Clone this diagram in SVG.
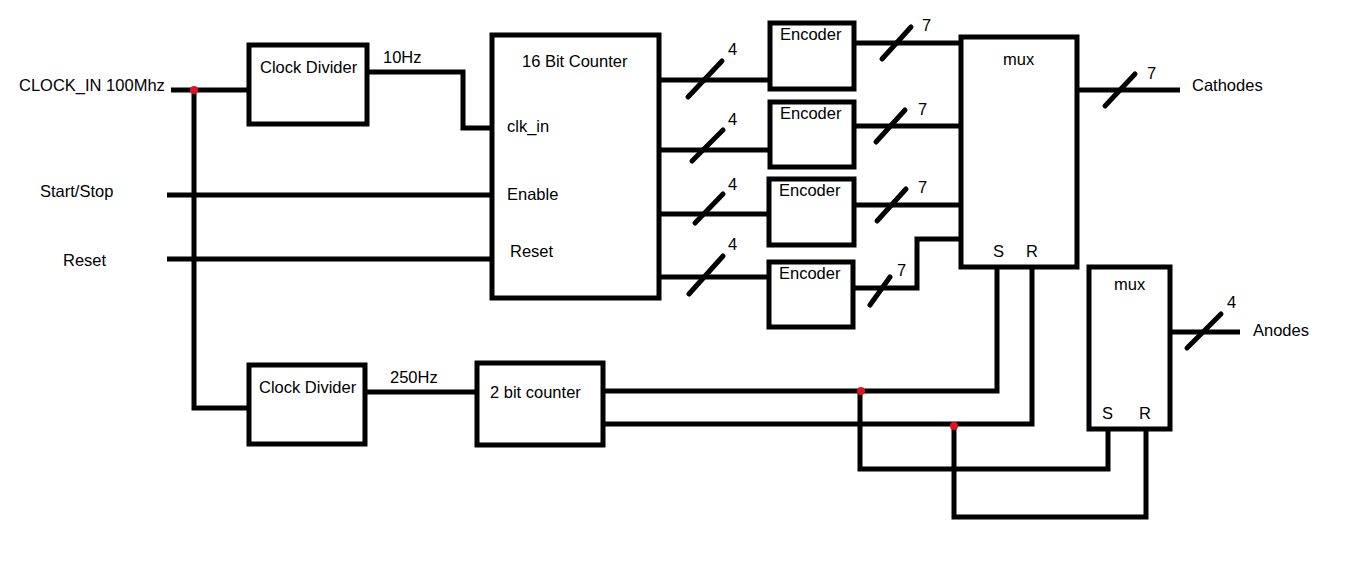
<svg xmlns="http://www.w3.org/2000/svg" width="1359" height="574" viewBox="0 0 1359 574">
<style>
.box{fill:#fff;stroke:#000;stroke-width:5}
.w{fill:none;stroke:#000;stroke-width:5;stroke-linejoin:miter}
.sl{stroke:#000;stroke-width:5;stroke-linecap:round}
text{font-family:"Liberation Sans",Arial,sans-serif;font-size:16.5px;fill:#000}
.dot{fill:#e0141e}
</style>
<rect width="1359" height="574" fill="#fff"/>
<g id="connectors">
<polyline class="w" points="171,90 250,90"/>
<polyline class="w" points="194,90 194,408 250,408"/>
<polyline class="w" points="367,72 463,72 463,128 492,128"/>
<polyline class="w" points="167,195 492,195"/>
<polyline class="w" points="167,259 492,259"/>
<polyline class="w" points="659,80 770,80"/>
<polyline class="w" points="659,150 770,150"/>
<polyline class="w" points="659,214 770,214"/>
<polyline class="w" points="659,277 770,277"/>
<polyline class="w" points="854,43 961,43"/>
<polyline class="w" points="854,126 961,126"/>
<polyline class="w" points="854,205 961,205"/>
<polyline class="w" points="852,288 917,288 917,239 961,239"/>
<polyline class="w" points="1077,90 1180,90"/>
<polyline class="w" points="1170,332 1240,332"/>
<polyline class="w" points="365,392 477,392"/>
<polyline class="w" points="603,391 997,391 997,267"/>
<polyline class="w" points="603,424 1032,424 1032,267"/>
<polyline class="w" points="860,391 860,469 1108,469 1108,429"/>
<polyline class="w" points="954,425 954,517 1146,517 1146,429"/>
<line class="sl" x1="688" y1="97" x2="722" y2="61"/>
<line class="sl" x1="692" y1="161" x2="723" y2="130"/>
<line class="sl" x1="695" y1="223" x2="723" y2="194"/>
<line class="sl" x1="689" y1="294" x2="723" y2="256"/>
<line class="sl" x1="882" y1="59" x2="911" y2="27"/>
<line class="sl" x1="876" y1="142" x2="905" y2="110"/>
<line class="sl" x1="877" y1="221" x2="906" y2="189"/>
<line class="sl" x1="870" y1="305" x2="890" y2="277"/>
<line class="sl" x1="1105" y1="106" x2="1135" y2="74"/>
<line class="sl" x1="1187" y1="348" x2="1221" y2="314"/>
<circle class="dot" cx="194" cy="90" r="4"/>
<circle class="dot" cx="861" cy="391" r="4"/>
<circle class="dot" cx="954" cy="426" r="4"/>
<text x="728" y="55">4</text>
<text x="728" y="125">4</text>
<text x="728" y="190">4</text>
<text x="728" y="250">4</text>
<text x="922" y="31">7</text>
<text x="918" y="115">7</text>
<text x="918" y="193">7</text>
<text x="897" y="276">7</text>
<text x="1147" y="79">7</text>
<text x="1227" y="308">4</text>
<text x="383" y="63">10Hz</text>
<text x="390" y="383">250Hz</text>
</g>
<g id="labels">
<text x="19" y="91">CLOCK_IN 100Mhz</text>
<text x="40" y="197">Start/Stop</text>
<text x="63" y="266">Reset</text>
<text x="1192" y="91">Cathodes</text>
<text x="1253" y="336">Anodes</text>
</g>
<g id="clkdiv1"><rect class="box" x="249" y="45" width="118" height="79"/><text x="260" y="73">Clock Divider</text></g>
<g id="clkdiv2"><rect class="box" x="249" y="365" width="116" height="79"/><text x="259" y="393">Clock Divider</text></g>
<g id="counter16"><rect class="box" x="492" y="35" width="167" height="263"/>
<text x="522" y="67">16 Bit Counter</text><text x="507" y="132">clk_in</text><text x="507" y="200">Enable</text><text x="510" y="257">Reset</text></g>
<g id="counter2"><rect class="box" x="477" y="363" width="126" height="82"/><text x="490" y="398">2 bit counter</text></g>
<g id="enc1"><rect class="box" x="770" y="23" width="84" height="66"/><text x="780" y="40">Encoder</text></g>
<g id="enc2"><rect class="box" x="770" y="102" width="84" height="65"/><text x="780" y="119">Encoder</text></g>
<g id="enc3"><rect class="box" x="769" y="179" width="85" height="66"/><text x="779" y="196">Encoder</text></g>
<g id="enc4"><rect class="box" x="769" y="262" width="84" height="65"/><text x="779" y="279">Encoder</text></g>
<g id="mux1"><rect class="box" x="961" y="37" width="116" height="230"/><text x="1003" y="65">mux</text><text x="993" y="257">S</text><text x="1026" y="257">R</text></g>
<g id="mux2"><rect class="box" x="1089" y="267" width="81" height="162"/><text x="1114" y="290">mux</text><text x="1102" y="419">S</text><text x="1139" y="419">R</text></g>
</svg>
